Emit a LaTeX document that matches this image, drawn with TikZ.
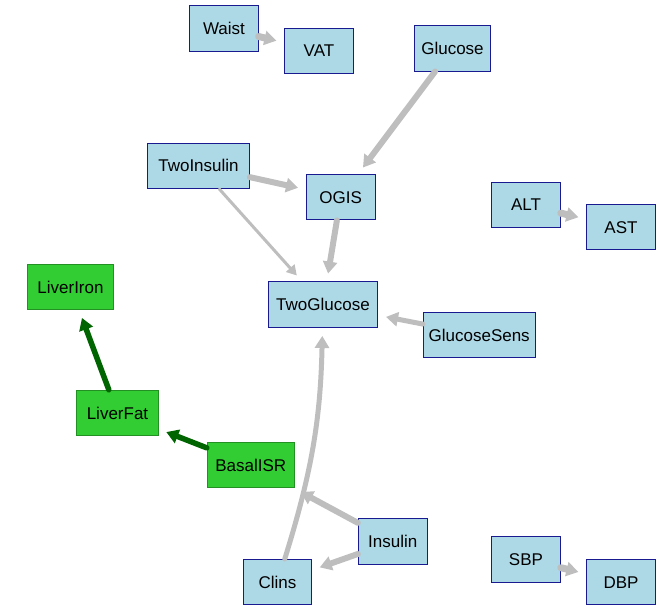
\documentclass[tikz,border=0pt]{standalone}
\usepackage{fontspec}
\setmainfont{Liberation Sans}
\usetikzlibrary{arrows.meta}
\definecolor{boxfill}{HTML}{ADD8E6}
\definecolor{boxline}{HTML}{1A1A90}
\definecolor{grnfill}{HTML}{32CD32}
\definecolor{grnline}{HTML}{229022}
\definecolor{edgegray}{HTML}{BEBEBE}
\definecolor{darkgrn}{HTML}{006400}
\begin{document}
\begin{tikzpicture}[x=1pt,y=-1pt,
  varnode/.style={draw=boxline,fill=boxfill,line width=1pt,minimum height=45.5pt,inner sep=0pt,font=\fontsize{17}{20}\selectfont},
  grnnode/.style={varnode,draw=grnline,fill=grnfill},
  gedge/.style={draw=edgegray,line width=#1,line cap=round,-{Triangle[length=12pt,width=14pt]},shorten >=8pt},
  gedge/.default=6pt,
  dedge/.style={draw=darkgrn,line width=#1,line cap=round,-{Triangle[length=12pt,width=14pt]},shorten >=8pt},
  dedge/.default=5.5pt]
\useasboundingbox (0,0) rectangle (667,613);
\foreach \nm/\xx/\yy/\bw in {Waist/224/28.3/68.3,VAT/319/50.8/68.6,Glucose/452.5/48.3/76.3,
  TwoInsulin/198.5/165.8/101.7,OGIS/340.7/197.2/68.7,ALT/526/205/68.6,AST/621/227.2/68.6,
  TwoGlucose/323/304.7/109.3,GlucoseSens/479.2/335/111.7,Insulin/392.8/541.7/69,
  Clins/277.5/582.2/68.3,SBP/526/559.3/68.6,DBP/621/582.2/68.6}
  {\node [varnode,minimum width=\bw] (\nm) at (\xx,\yy) {\nm};}
\foreach \nm/\xx/\yy/\bw in {LiverIron/70.5/287.2/86.3,LiverFat/117.5/413/81.7,BasalISR/250.7/465/86.7}
  {\node [grnnode,minimum width=\bw] (\nm) at (\xx,\yy) {\nm};}
\draw [gedge=7pt] (Waist) -- (VAT);
\draw [gedge] (Glucose) -- (OGIS);
\draw [gedge] (TwoInsulin) -- (OGIS);
\draw [gedge=3pt,-{Triangle[length=10pt,width=11pt]}] (TwoInsulin) -- (TwoGlucose);
\draw [gedge] (OGIS) -- (TwoGlucose);
\draw [gedge=7pt] (ALT) -- (AST);
\draw [gedge=5pt] (GlucoseSens) -- (TwoGlucose);
\draw [gedge=5pt] (Clins) to[bend right=8] (TwoGlucose);
\draw [gedge] (Insulin) -- (BasalISR);
\draw [gedge] (Insulin) -- (Clins);
\draw [gedge=7pt] (SBP) -- (DBP);
\draw [dedge] (BasalISR) -- (LiverFat);
\draw [dedge] (LiverFat) -- (LiverIron);
\end{tikzpicture}
\end{document}
